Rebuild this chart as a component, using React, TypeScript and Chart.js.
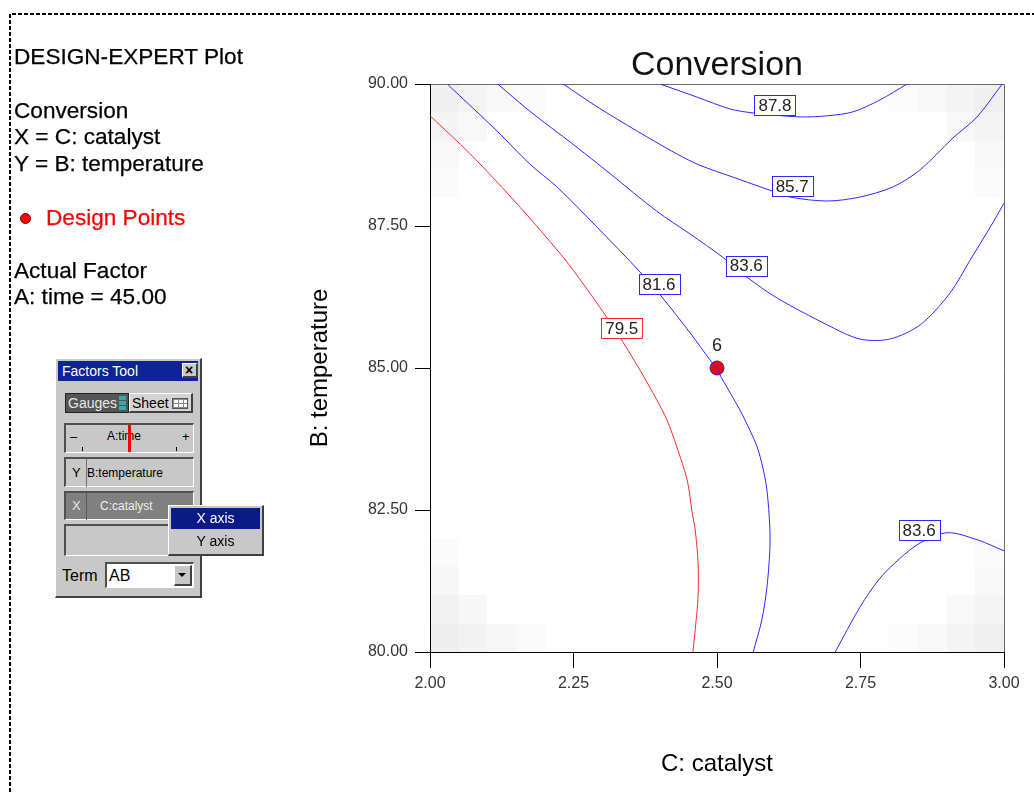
import React, { useEffect, useRef } from 'react';
import { Chart, registerables } from 'chart.js';

Chart.register(...registerables);

// ---------- data ----------
const xTicks = [2.0, 2.25, 2.5, 2.75, 3.0];
const yTicks = [80.0, 82.5, 85.0, 87.5, 90.0];

// contour 79.5 (red)
const contour795: [number, number][] = [
  [2.0, 89.44], [2.07, 88.77], [2.157, 87.83], [2.232, 86.95], [2.267, 86.48], [2.293, 86.11],
  [2.326, 85.62], [2.366, 84.96], [2.395, 84.44], [2.413, 84.08], [2.43, 83.61], [2.448, 83.03],
  [2.456, 82.5], [2.462, 82.15], [2.467, 81.57], [2.467, 80.97], [2.462, 80.39], [2.458, 80.0],
];
// contour 81.6
const contour816: [number, number][] = [
  [2.03, 90.0], [2.117, 89.17], [2.174, 88.59], [2.221, 88.19], [2.291, 87.48], [2.366, 86.69],
  [2.404, 86.25], [2.453, 85.62], [2.488, 85.14], [2.5, 85.0], [2.505, 84.88], [2.54, 84.26],
  [2.557, 83.91], [2.57, 83.61], [2.58, 83.24], [2.587, 82.85], [2.592, 82.2], [2.592, 81.79],
  [2.587, 81.14], [2.578, 80.56], [2.563, 80.0],
];
// contour 83.6 (upper branch)
const contour836a: [number, number][] = [
  [2.118, 90.0], [2.174, 89.52], [2.249, 88.94], [2.314, 88.42], [2.395, 87.76], [2.453, 87.36],
  [2.51, 86.95], [2.552, 86.6], [2.605, 86.23], [2.692, 85.76], [2.749, 85.51], [2.801, 85.51],
  [2.854, 85.76], [2.906, 86.32], [2.941, 86.9], [2.976, 87.48], [3.0, 87.9],
];
// contour 85.7
const contour857: [number, number][] = [
  [2.232, 90.0], [2.291, 89.6], [2.361, 89.17], [2.43, 88.77], [2.47, 88.57], [2.528, 88.36],
  [2.592, 88.13], [2.627, 88.01], [2.692, 87.94], [2.749, 88.01], [2.807, 88.19], [2.854, 88.49],
  [2.911, 89.05], [2.953, 89.42], [2.997, 90.0],
];
// contour 87.8
const contour878: [number, number][] = [
  [2.401, 90.0], [2.465, 89.77], [2.523, 89.56], [2.563, 89.49], [2.645, 89.42], [2.692, 89.44],
  [2.737, 89.51], [2.784, 89.72], [2.831, 90.0],
];
// contour 83.6 (lower-right branch)
const contour836b: [number, number][] = [
  [2.706, 80.0], [2.749, 80.79], [2.784, 81.3], [2.819, 81.65], [2.854, 81.92], [2.902, 82.1],
  [2.955, 81.97], [3.0, 81.78],
];

const contourLabels = ['79.5', '81.6', '83.6', '85.7', '87.8', '83.6'];
const contourLabelX = [2.334, 2.399, 2.551, 2.631, 2.601, 2.852];
const contourLabelY = [85.7, 86.48, 86.8, 88.2, 89.63, 82.15];

// design points
const designX = [2.5];
const designY = [85.0];
const designLabels = ['6'];

// standard-error shading cells: [catalyst, temperature, gray level]
const shadeCells: [number, number, number][] = [
  // top-left
  [2.025, 89.75, 240], [2.075, 89.75, 244], [2.125, 89.75, 248], [2.175, 89.75, 251],
  [2.025, 89.25, 244], [2.075, 89.25, 248], [2.025, 88.75, 248], [2.025, 88.25, 251],
  // bottom-left
  [2.025, 80.25, 238], [2.075, 80.25, 242], [2.125, 80.25, 246], [2.175, 80.25, 250],
  [2.025, 80.75, 242], [2.075, 80.75, 247], [2.025, 81.25, 247], [2.025, 81.75, 251],
  // top-right
  [2.825, 89.75, 252], [2.875, 89.75, 248], [2.925, 89.75, 244], [2.975, 89.75, 240],
  [2.925, 89.25, 248], [2.975, 89.25, 244], [2.975, 88.75, 248], [2.975, 88.25, 251],
  // bottom-right
  [2.825, 80.25, 252], [2.875, 80.25, 248], [2.925, 80.25, 243], [2.975, 80.25, 239],
  [2.925, 80.75, 248], [2.975, 80.75, 244], [2.975, 81.25, 248], [2.975, 81.75, 251],
];

const BLUE = '#2a2aff';
const RED = '#ff2a2a';
const FONT = '"Liberation Sans", Arial, sans-serif';

const contourSets = [contour795, contour816, contour836a, contour857, contour878, contour836b];
const contourColors = [RED, BLUE, BLUE, BLUE, BLUE, BLUE];

const decorPlugin = {
  id: 'decor',
  beforeDraw(chart: any) {
    const { ctx, chartArea: a, scales } = chart;
    const x = scales.x, y = scales.y;
    ctx.save();
    for (const [cx, cy, g] of shadeCells) {
      const x0 = Math.round(x.getPixelForValue(cx - 0.025));
      const x1 = Math.round(x.getPixelForValue(cx + 0.025));
      const y0 = Math.round(y.getPixelForValue(cy + 0.25));
      const y1 = Math.round(y.getPixelForValue(cy - 0.25));
      ctx.fillStyle = `rgb(${g},${g},${g})`;
      ctx.fillRect(x0, y0, x1 - x0, y1 - y0);
    }
    ctx.strokeStyle = '#6a6a6a';
    ctx.lineWidth = 1;
    ctx.beginPath();
    ctx.moveTo(a.left, a.top + 0.5);
    ctx.lineTo(a.right + 0.5, a.top + 0.5);
    ctx.lineTo(a.right + 0.5, a.bottom);
    ctx.stroke();
    // dashed page frame
    ctx.setLineDash([4, 2]);
    ctx.strokeStyle = '#000';
    ctx.lineWidth = 2;
    ctx.beginPath();
    ctx.moveTo(10, 792);
    ctx.lineTo(10, 14);
    ctx.lineTo(1034, 14);
    ctx.stroke();
    ctx.restore();
  },
  afterDatasetsDraw(chart: any) {
    const { ctx, chartArea: a, scales } = chart;
    const x = scales.x, y = scales.y;
    ctx.save();
    ctx.font = `17px ${FONT}`;
    ctx.textAlign = 'center';
    ctx.textBaseline = 'middle';
    contourLabels.forEach((t, i) => {
      const px = x.getPixelForValue(contourLabelX[i]);
      const py = y.getPixelForValue(contourLabelY[i]);
      const w = Math.round(ctx.measureText(t).width + 8);
      const h = 20;
      const bx = Math.round(px - w / 2) + 0.5;
      const by = Math.round(py - h / 2) + 0.5;
      ctx.fillStyle = '#fff';
      ctx.fillRect(bx, by, w, h);
      ctx.strokeStyle = contourColors[i];
      ctx.lineWidth = 1;
      ctx.strokeRect(bx, by, w, h);
      ctx.fillStyle = '#222';
      ctx.fillText(t, px, py + 1);
    });
    // design point labels
    ctx.font = `18px ${FONT}`;
    ctx.fillStyle = '#222';
    designLabels.forEach((t, i) => {
      ctx.fillText(t, x.getPixelForValue(designX[i]), y.getPixelForValue(designY[i]) - 22);
    });
    // title
    ctx.font = `34px ${FONT}`;
    ctx.fillStyle = '#111';
    ctx.fillText('Conversion', (a.left + a.right) / 2, a.top - 18);
    ctx.restore();
  },
};

export default function App() {
  const ref = useRef<HTMLCanvasElement>(null);
  useEffect(() => {
    Chart.defaults.font.family = FONT;
    const datasets: any[] = contourSets.map((pts, i) => ({
      data: pts.map(([cx, cy]) => ({ x: cx, y: cy })),
      showLine: true,
      borderColor: contourColors[i],
      borderWidth: 1,
      pointRadius: 0,
      tension: 0.3,
      fill: false,
    }));
    datasets.push({
      data: designX.map((v, i) => ({ x: v, y: designY[i] })),
      showLine: false,
      pointRadius: 7,
      pointStyle: 'circle',
      backgroundColor: '#ff0000',
      borderColor: '#2020d0',
      borderWidth: 1,
    });
    const chart = new Chart(ref.current!, {
      type: 'scatter',
      data: { datasets },
      plugins: [decorPlugin],
      options: {
        responsive: false,
        animation: false,
        events: [],
        layout: { padding: { left: 300, top: 84, right: 30, bottom: 0 } },
        plugins: { legend: { display: false }, tooltip: { enabled: false }, title: { display: false } },
        scales: {
          x: {
            type: 'linear',
            min: xTicks[0],
            max: xTicks[xTicks.length - 1],
            afterBuildTicks: (s: any) => { s.ticks = xTicks.map((v) => ({ value: v })); },
            afterFit: (s: any) => { s.height = 140; },
            ticks: { callback: (v: any) => Number(v).toFixed(2), font: { size: 16 }, color: '#333', padding: 6, maxRotation: 0 },
            grid: { drawOnChartArea: false, drawTicks: true, tickLength: 16, color: '#000', lineWidth: 1 },
            border: { display: true, color: '#000', width: 1 },
            title: { display: true, text: 'C: catalyst', font: { size: 24 }, color: '#000', padding: { top: 0, bottom: 13 } },
          },
          y: {
            type: 'linear',
            min: yTicks[0],
            max: yTicks[yTicks.length - 1],
            afterBuildTicks: (s: any) => { s.ticks = yTicks.map((v) => ({ value: v })); },
            afterFit: (s: any) => { s.width = 130; },
            ticks: { callback: (v: any) => Number(v).toFixed(2), font: { size: 16 }, color: '#333', padding: 7 },
            grid: { drawOnChartArea: false, drawTicks: true, tickLength: 15, color: '#000', lineWidth: 1 },
            border: { display: true, color: '#000', width: 1 },
            title: { display: true, text: 'B: temperature', font: { size: 24 }, color: '#000', padding: { top: 6, bottom: 0 } },
          },
        },
      } as any,
    });
    return () => chart.destroy();
  }, []);

  const txt = (top: number, left: number, s: string, extra: any = {}) => (
    <div style={{ position: 'absolute', top, left, fontSize: 22.6, lineHeight: '24px', whiteSpace: 'nowrap', color: '#000', WebkitTextStroke: '0.25px currentColor', ...extra }}>{s}</div>
  );

  const abs = (l: number, t: number, w: number, h: number, extra: any = {}) => ({
    position: 'absolute' as const, left: l, top: t, width: w, height: h, boxSizing: 'border-box' as const, ...extra,
  });
  const sunken = { borderTop: '2px solid #505050', borderLeft: '2px solid #505050', borderRight: '1px solid #fff', borderBottom: '1px solid #fff' };
  const raised = { borderTop: '1px solid #fff', borderLeft: '1px solid #fff', borderRight: '2px solid #404040', borderBottom: '2px solid #404040' };
  const small = { fontSize: 13, lineHeight: '16px', whiteSpace: 'nowrap' as const, position: 'absolute' as const };

  return (
    <div style={{ position: 'absolute', left: 0, top: 0, width: 1034, height: 792, background: '#fff', fontFamily: FONT, overflow: 'hidden' }}>
      <canvas ref={ref} width={1034} height={792} style={{ position: 'absolute', left: 0, top: 0 }} />
      {txt(45, 14, 'DESIGN-EXPERT Plot')}
      {txt(99, 14, 'Conversion')}
      {txt(125, 14, 'X = C: catalyst')}
      {txt(152, 14, 'Y = B: temperature')}
      <div style={abs(20, 213, 11, 11, { borderRadius: '50%', background: '#ff0000', border: '1px solid #600' })} />
      {txt(206, 46, 'Design Points', { color: '#ff0000' })}
      {txt(259, 14, 'Actual Factor')}
      {txt(285, 14, 'A: time = 45.00')}

      {/* Factors Tool window */}
      <div style={abs(55, 358, 147, 240, { background: '#c8c8c8', ...raised })}>
        <div style={abs(2, 2, 140, 20, { background: '#0c2496' })}>
          <div style={{ ...small, left: 4, top: 2, color: '#fff', fontSize: 14 }}>Factors Tool</div>
          <div style={abs(124, 2, 16, 15, { background: '#c8c8c8', ...raised })}>
            <div style={{ ...small, left: 2, top: -2, fontSize: 14, fontWeight: 'bold', color: '#000' }}>×</div>
          </div>
        </div>
        {/* Gauges / Sheet */}
        <div style={abs(9, 34, 64, 20, { background: '#555', border: '1px solid #222' })}>
          <div style={{ ...small, left: 2, top: 1, color: '#e6e6e6', fontSize: 14 }}>Gauges</div>
          <div style={abs(53, 2, 7, 4, { background: '#3aa8a8' })} />
          <div style={abs(53, 7, 7, 4, { background: '#3aa8a8' })} />
          <div style={abs(53, 12, 7, 4, { background: '#3aa8a8' })} />
        </div>
        <div style={abs(73, 34, 64, 20, { background: '#d4d4d4', borderTop: '1px solid #fff', borderLeft: '1px solid #fff', borderRight: '2px solid #404040', borderBottom: '2px solid #404040' })}>
          <div style={{ ...small, left: 2, top: 1, color: '#000', fontSize: 14 }}>Sheet</div>
          <div style={abs(42, 4, 16, 11, { background: '#fff', border: '1px solid #555', backgroundImage: 'linear-gradient(#888 1px, transparent 1px), linear-gradient(90deg, #888 1px, transparent 1px)', backgroundSize: '5px 4px' })} />
        </div>
        {/* A:time gauge */}
        <div style={abs(8, 64, 130, 30, { background: '#c8c8c8', ...sunken })}>
          <div style={{ ...small, left: 4, top: 4, color: '#000' }}>–</div>
          <div style={{ ...small, left: 41, top: 3, color: '#000', fontSize: 12 }}>A:time</div>
          <div style={{ ...small, left: 116, top: 4, color: '#000' }}>+</div>
          <div style={abs(16, 22, 1, 4, { background: '#000' })} />
          <div style={abs(63, 22, 1, 4, { background: '#000' })} />
          <div style={abs(110, 22, 1, 4, { background: '#000' })} />
          <div style={abs(62, 0, 3, 27, { background: '#ff0000' })} />
        </div>
        {/* Y row */}
        <div style={abs(8, 98, 130, 30, { background: '#c8c8c8', ...sunken })}>
          <div style={{ ...small, left: 6, top: 6, color: '#000' }}>Y</div>
          <div style={{ ...small, left: 21, top: 6, color: '#000', fontSize: 12 }}>B:temperature</div>
          <div style={abs(20, 0, 1, 28, { background: '#707070' })} />
        </div>
        {/* X row */}
        <div style={abs(8, 132, 130, 29, { background: '#808080', ...sunken })}>
          <div style={{ ...small, left: 6, top: 5, color: '#e8e8e8' }}>X</div>
          <div style={abs(20, 0, 1, 27, { background: '#5a5a5a' })} />
          <div style={{ ...small, left: 34, top: 5, color: '#eee', fontSize: 12 }}>C:catalyst</div>
        </div>
        {/* empty row */}
        <div style={abs(8, 165, 130, 32, { background: '#c8c8c8', ...sunken })} />
        {/* Term */}
        <div style={{ ...small, left: 6, top: 207, fontSize: 16, lineHeight: '20px', color: '#000' }}>Term</div>
        <div style={abs(49, 203, 89, 26, { background: '#fff', ...sunken })}>
          <div style={{ ...small, left: 2, top: 2, fontSize: 16, lineHeight: '20px', color: '#000' }}>AB</div>
          <div style={abs(67, 1, 18, 21, { background: '#c8c8c8', ...raised })}>
            <div style={{ position: 'absolute', left: 3, top: 7, width: 0, height: 0, borderLeft: '4px solid transparent', borderRight: '4px solid transparent', borderTop: '4px solid #000' }} />
          </div>
        </div>
      </div>
      {/* popup menu */}
      <div style={abs(168, 505, 96, 51, { background: '#c8c8c8', ...raised })}>
        <div style={abs(2, 2, 89, 21, { background: '#0a1a86' })}>
          <div style={{ ...small, left: 0, width: 89, textAlign: 'center', top: 2, color: '#fff', fontSize: 14 }}>X axis</div>
        </div>
        <div style={{ ...small, left: 2, width: 89, textAlign: 'center', top: 27, color: '#000', fontSize: 14 }}>Y axis</div>
      </div>
    </div>
  );
}
